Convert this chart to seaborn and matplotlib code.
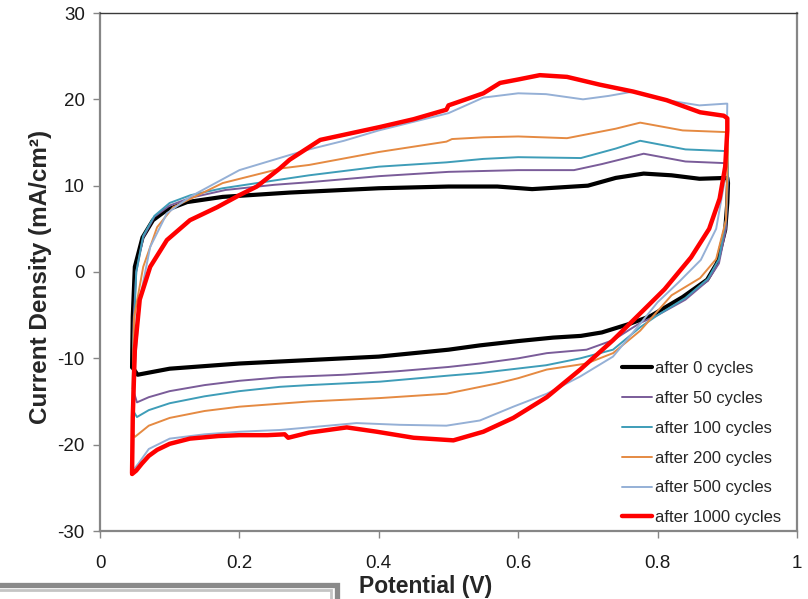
import numpy as np
import pandas as pd
import matplotlib
matplotlib.use("Agg")
import matplotlib.pyplot as plt
from matplotlib.patches import Rectangle
import seaborn as sns

# ---------------- data ----------------
labels = ["after 0 cycles", "after 50 cycles", "after 100 cycles",
          "after 200 cycles", "after 500 cycles", "after 1000 cycles"]
colors = ["#000000", "#7A5C99", "#3E9DB8", "#E58A42", "#95B0D6", "#FF0000"]
widths = [3.0, 1.4, 1.4, 1.4, 1.4, 3.2]

x_ticks = [0, 0.2, 0.4, 0.6, 0.8, 1]
y_ticks = [-30, -20, -10, 0, 10, 20, 30]

# after 0 cycles
v0 = [0.046, 0.047, 0.050, 0.061, 0.076, 0.096, 0.125, 0.176, 0.272, 0.40, 0.50, 0.57, 0.62, 0.66, 0.70,
      0.74, 0.78, 0.82, 0.86, 0.90,
      0.901, 0.900, 0.897, 0.885, 0.871, 0.836, 0.79, 0.76, 0.72,
      0.69, 0.65, 0.60, 0.545, 0.50, 0.40, 0.30, 0.20, 0.10, 0.054, 0.046]
j0 = [-11.0, -5.2, 0.6, 4.0, 6.0, 7.2, 8.1, 8.7, 9.2, 9.7, 9.9, 9.9, 9.6, 9.8, 10.0,
      10.9, 11.4, 11.2, 10.8, 10.9,
      10.3, 8.0, 4.9, 1.0, -0.9, -2.9, -5.1, -6.0, -7.0,
      -7.4, -7.6, -8.0, -8.5, -9.0, -9.8, -10.2, -10.6, -11.2, -11.9, -11.0]

# after 50 cycles
v1 = [0.047, 0.048, 0.052, 0.062, 0.078, 0.10, 0.13, 0.18, 0.25, 0.30, 0.40, 0.50, 0.60, 0.68, 0.72,
      0.78, 0.84, 0.90,
      0.901, 0.898, 0.888, 0.872, 0.84, 0.80, 0.775,
      0.736, 0.698, 0.641, 0.60, 0.545, 0.50, 0.426, 0.35, 0.258, 0.20, 0.15, 0.10, 0.07, 0.053, 0.047]
j1 = [-13.5, -6.0, 0.0, 4.0, 6.4, 7.7, 8.6, 9.5, 10.1, 10.4, 11.1, 11.6, 11.8, 11.8, 12.5,
      13.7, 12.8, 12.6,
      11.0, 5.0, 1.0, -1.0, -3.2, -5.0, -5.9,
      -7.9, -9.0, -9.4, -10.0, -10.6, -11.0, -11.5, -11.9, -12.2, -12.6, -13.1, -13.8, -14.5, -15.1, -13.5]

# after 100 cycles
v2 = [0.047, 0.048, 0.052, 0.062, 0.078, 0.10, 0.13, 0.176, 0.25, 0.30, 0.40, 0.497, 0.55, 0.60, 0.69,
      0.74, 0.775, 0.84, 0.90,
      0.901, 0.898, 0.888, 0.872, 0.84, 0.80, 0.775,
      0.736, 0.689, 0.64, 0.545, 0.50, 0.402, 0.30, 0.258, 0.20, 0.15, 0.10, 0.07, 0.053, 0.047]
j2 = [-16.0, -8.0, 0.0, 4.2, 6.5, 8.0, 8.9, 9.7, 10.6, 11.2, 12.2, 12.7, 13.1, 13.3, 13.2,
      14.3, 15.2, 14.2, 14.0,
      12.0, 6.0, 1.5, -0.8, -3.0, -5.0, -6.4,
      -9.0, -10.0, -10.8, -11.7, -12.0, -12.7, -13.1, -13.3, -13.8, -14.4, -15.2, -16.0, -16.8, -16.0]

# after 200 cycles
v3 = [0.046, 0.047, 0.049, 0.062, 0.082, 0.105, 0.176, 0.26, 0.30, 0.40, 0.497, 0.505, 0.55, 0.60, 0.67,
      0.74, 0.775, 0.836, 0.90,
      0.901, 0.898, 0.884, 0.861, 0.82, 0.775,
      0.736, 0.698, 0.641, 0.60, 0.57, 0.497, 0.402, 0.30, 0.20, 0.15, 0.10, 0.07, 0.05, 0.046]
j3 = [-18.5, -12.0, -5.2, 0.6, 5.2, 7.5, 10.3, 12.0, 12.4, 13.9, 15.1, 15.4, 15.6, 15.7, 15.5,
      16.6, 17.3, 16.4, 16.2,
      14.0, 6.0, 1.5, -0.7, -2.7, -6.8,
      -9.4, -10.6, -11.3, -12.3, -12.9, -14.1, -14.6, -15.0, -15.6, -16.1, -16.9, -17.8, -19.1, -18.5]

# after 500 cycles
v4 = [0.047, 0.048, 0.050, 0.057, 0.072, 0.096, 0.129, 0.20, 0.27, 0.30, 0.35, 0.40, 0.45, 0.50, 0.55,
      0.60, 0.64, 0.693, 0.73, 0.765, 0.813, 0.86, 0.898,
      0.900, 0.899, 0.895, 0.884, 0.862, 0.83, 0.80, 0.775,
      0.736, 0.689, 0.641, 0.593, 0.545, 0.497, 0.43, 0.368, 0.30, 0.258, 0.20, 0.15, 0.10, 0.07,
      0.055, 0.047]
j4 = [-23.0, -18.0, -11.0, -3.2, 2.9, 6.8, 8.7, 11.8, 13.5, 14.2, 15.2, 16.4, 17.4, 18.4, 20.2,
      20.7, 20.6, 20.0, 20.4, 20.9, 19.9, 19.3, 19.5,
      19.5, 15.0, 10.0, 5.0, 1.4, -1.2, -3.5, -6.0,
      -9.8, -12.1, -14.1, -15.6, -17.2, -17.8, -17.7, -17.5, -18.0, -18.3, -18.5, -18.8, -19.3, -20.5,
      -22.2, -23.0]

# after 1000 cycles
v5 = [0.046, 0.047, 0.050, 0.057, 0.072, 0.096, 0.129, 0.168, 0.20, 0.225, 0.258, 0.272, 0.316, 0.402,
      0.45, 0.497, 0.50, 0.55, 0.574, 0.60, 0.631, 0.67, 0.717, 0.765, 0.813, 0.861, 0.895, 0.90,
      0.90, 0.897, 0.889, 0.874, 0.848, 0.81, 0.775,
      0.736, 0.689, 0.641, 0.593, 0.55, 0.507, 0.45, 0.397, 0.354, 0.30, 0.28, 0.27, 0.265, 0.24,
      0.20, 0.17, 0.129, 0.10, 0.082, 0.07, 0.06, 0.052, 0.046]
j5 = [-23.3, -16.8, -9.0, -3.2, 0.6, 3.7, 6.0, 7.5, 8.9, 9.9, 12.0, 13.0, 15.3, 16.8,
      17.7, 18.8, 19.3, 20.7, 21.9, 22.3, 22.8, 22.6, 21.7, 20.9, 19.9, 18.5, 18.1, 17.8,
      16.4, 12.2, 8.5, 5.0, 1.7, -2.0, -4.8,
      -7.9, -11.3, -14.5, -16.9, -18.5, -19.5, -19.2, -18.5, -18.0, -18.6, -19.0, -19.2, -18.8, -18.9,
      -18.9, -19.0, -19.3, -19.9, -20.6, -21.3, -22.2, -23.0, -23.4]

series_v = [v0, v1, v2, v3, v4, v5]
series_j = [j0, j1, j2, j3, j4, j5]

# ---------------- figure ----------------
sns.set_style("white")
plt.rcParams["font.family"] = ["Liberation Sans", "DejaVu Sans"]
plt.rcParams["axes.unicode_minus"] = False

fig = plt.figure(figsize=(8.08, 5.99), dpi=100)
ax = fig.add_axes([100 / 808, (599 - 531) / 599, 697 / 808, 518 / 599])

for lab, col, lw, v, j in zip(labels, colors, widths, series_v, series_j):
    df = pd.DataFrame({"Potential": v, "Current": j})
    sns.lineplot(data=df, x="Potential", y="Current", sort=False, estimator=None,
                 color=col, linewidth=lw, label=lab, ax=ax,
                 solid_joinstyle="round", solid_capstyle="round")

ax.set_xlim(0, 1)
ax.set_ylim(-30, 30)
ax.set_xticks(x_ticks)
ax.set_xticklabels([f"{t:g}" for t in x_ticks])
ax.set_yticks(y_ticks)
ax.set_yticklabels([f"{t:d}" for t in y_ticks])
ax.tick_params(axis="both", which="major", direction="out", length=5, width=1,
               color="#868686", labelsize=13.5, labelcolor="#1a1a1a", pad=6,
               bottom=True, left=True)
ax.tick_params(axis="x", pad=12)

for side in ["left", "right", "bottom"]:
    ax.spines[side].set_color("#868686")
    ax.spines[side].set_linewidth(1.6)
ax.spines["top"].set_color("#3a3a3a")
ax.spines["top"].set_linewidth(1.0)

ax.set_xlabel("Potential (V)", fontsize=16.5, fontweight="bold")
ax.xaxis.set_label_coords((426 - 100) / 697, -(587 - 531) / 518)
ax.xaxis.label.set_verticalalignment("center")
ax.set_ylabel("Current Density (mA/cm²)", fontsize=17.5, fontweight="bold")
ax.yaxis.set_label_coords(-(100 - 41) / 697, (531 - 277) / 518)
ax.yaxis.label.set_verticalalignment("center")

leg = ax.legend(loc="lower left", bbox_to_anchor=(0.749, 0.011), frameon=False,
                fontsize=12, handlelength=1.8, handletextpad=0.15, labelspacing=0.89,
                borderpad=0, borderaxespad=0)

# grey frame fragment at the bottom-left of the picture
fig.add_artist(Rectangle((-10 / 808, -0.1), (337 + 10) / 808, 0.1 + 14.5 / 599,
                         transform=fig.transFigure, fill=False, edgecolor="#8a8a8a",
                         linewidth=3.8, clip_on=False))
fig.add_artist(Rectangle((-10 / 808, -0.1), (331 + 10) / 808, 0.1 + 9.5 / 599,
                         transform=fig.transFigure, fill=False, edgecolor="#c4c4c4",
                         linewidth=2.0, clip_on=False))

fig.savefig("out.png", dpi=100)
